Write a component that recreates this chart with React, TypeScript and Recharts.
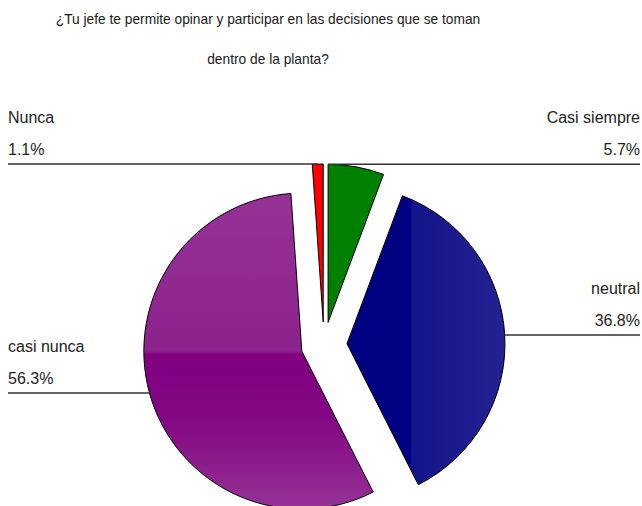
import React from 'react';
import { PieChart, Pie, Sector, Cell } from 'recharts';

const CATEGORIES = ['Casi siempre', 'neutral', 'casi nunca', 'Nunca'];
const PERCENTS = [5.7, 36.8, 56.3, 1.1];
const FILLS = ['#008000', 'url(#gNeutral)', 'url(#gPurple)', '#ff0000'];
const TITLE_LINES = [
  '¿Tu jefe te permite opinar y participar en las decisiones que se toman',
  'dentro de la planta?',
];

const data = CATEGORIES.map((name, i) => ({ name, value: PERCENTS[i] }));

const RAD = Math.PI / 180;
const EXPLODE = 23;
const FONT = "'Liberation Sans', Arial, sans-serif";

const ExplodedSector = (props: any) => {
  const { cx, cy, midAngle } = props;
  const dx = EXPLODE * Math.cos(-midAngle * RAD);
  const dy = EXPLODE * Math.sin(-midAngle * RAD);
  return <Sector {...props} cx={cx + dx} cy={cy + dy} />;
};

const renderLabel = (props: any) => {
  const { cx, cy, midAngle, outerRadius, index, name, value, startAngle, endAngle } = props;
  const ox = cx + EXPLODE * Math.cos(-midAngle * RAD);
  const oy = cy + EXPLODE * Math.sin(-midAngle * RAD);
  // slices touching 12 o'clock hook their leader line to the top corner
  const touchesTop = startAngle === 90 || endAngle === -270;
  const a = touchesTop ? 90 : midAngle;
  const px = ox + outerRadius * Math.cos(-a * RAD);
  const py = oy + outerRadius * Math.sin(-a * RAD);
  const right = Math.cos(-midAngle * RAD) >= 0;
  const x0 = right ? px : 8;
  const x1 = right ? 640 : px;
  const tx = right ? 640 : 8;
  const anchor = right ? 'end' : 'start';
  return (
    <g key={`lbl-${index}`}>
      <line x1={x0} y1={py} x2={x1} y2={py} stroke="#333" strokeWidth={1.5} />
      <text x={tx} y={py - 41} textAnchor={anchor} fontSize={16} fill="#222" fontFamily={FONT}>
        {name}
      </text>
      <text x={tx} y={py - 9} textAnchor={anchor} fontSize={16} fill="#222" fontFamily={FONT}>
        {`${Number(value).toFixed(1)}%`}
      </text>
    </g>
  );
};

export default function App() {
  return (
    <div style={{ position: 'absolute', left: 0, top: 0, width: 642, height: 506, background: '#fff' }}>
      {TITLE_LINES.map((t, i) => (
        <div
          key={t}
          style={{
            position: 'absolute',
            left: 0,
            width: 536,
            top: 12 + i * 40,
            lineHeight: '16px',
            textAlign: 'center',
            fontSize: 13.75,
            fontFamily: FONT,
            color: '#1a1a1a',
          }}
        >
          {t}
        </div>
      ))}
      <PieChart width={642} height={506} margin={{ top: 0, right: 0, bottom: 0, left: 0 }}>
        <defs>
          <linearGradient id="gNeutral" x1="0" y1="0" x2="1" y2="0">
            <stop offset="0%" stopColor="#000080" />
            <stop offset="40%" stopColor="#000080" />
            <stop offset="41%" stopColor="#14148a" />
            <stop offset="100%" stopColor="#222292" />
          </linearGradient>
          <linearGradient id="gPurple" x1="0" y1="0" x2="0" y2="1">
            <stop offset="0%" stopColor="#963296" />
            <stop offset="50%" stopColor="#8c228c" />
            <stop offset="51%" stopColor="#800080" />
            <stop offset="72%" stopColor="#830883" />
            <stop offset="100%" stopColor="#963296" />
          </linearGradient>
        </defs>
        <Pie
          data={data}
          dataKey="value"
          nameKey="name"
          cx={324}
          cy={345}
          outerRadius={158}
          startAngle={90}
          endAngle={-270}
          stroke="#000"
          strokeWidth={1}
          shape={ExplodedSector}
          label={renderLabel}
          labelLine={false}
          isAnimationActive={false}
        >
          {data.map((d, i) => (
            <Cell key={d.name} fill={FILLS[i]} />
          ))}
        </Pie>
      </PieChart>
    </div>
  );
}
